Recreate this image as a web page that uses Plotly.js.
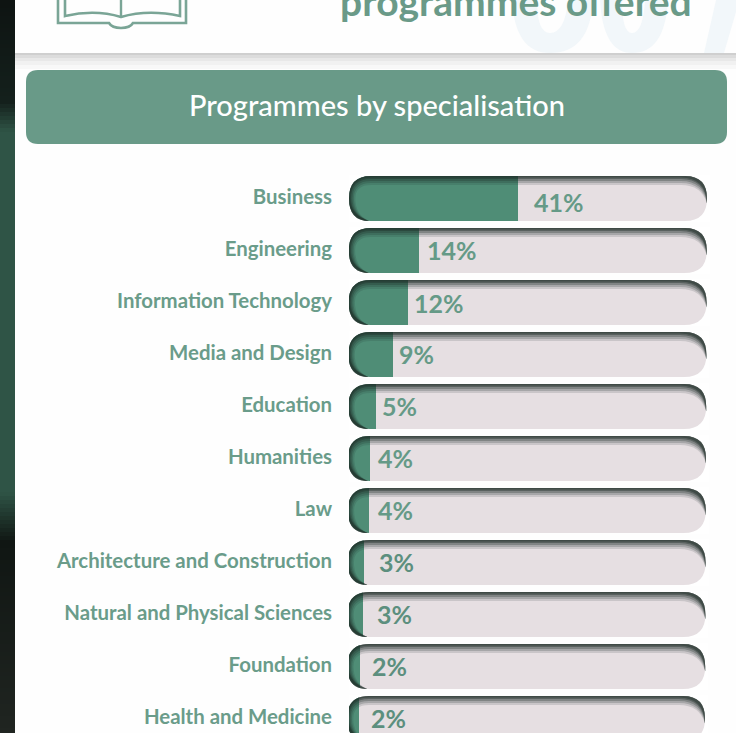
<!DOCTYPE html>
<html><head><meta charset="utf-8">
<script src="https://cdn.plot.ly/plotly-3.0.1.min.js"></script>
<style>html,body{margin:0;padding:0;background:#fff;overflow:hidden}</style>
</head><body><div id="c" style="width:736px;height:733px"></div>
<script>
const categories=["Business","Engineering","Information Technology","Media and Design","Education","Humanities","Law","Architecture and Construction","Natural and Physical Sciences","Foundation","Health and Medicine"];
const percentLabels=[41,14,12,9,5,4,4,3,3,2,2];
// drawn bar lengths (the reference is not strictly proportional to its labels)
const barLengths=[41,17,14.4,10.9,6.8,5.4,5.2,4.1,3.9,3,3];
const trackFull=87;
const labelGaps=[14,6,4,4,4,6,7,13,12,10,10];
const labelLift=[-3,1,0,1,1,1,1,1,1,1,1];
const W=736,H=733,R=22,HT=22.5,PXU=4.12;
const GREEN='#699a88',BAR='#4f8d76',TRACK='#e6dfe2',LABEL='#6a9c8a';
const px=x=>x/W,py=y=>1-y/H;
const rect=(x0,y0,x1,y1,c,layer)=>({type:'rect',xref:'paper',yref:'paper',x0:px(x0),x1:px(x1),y0:py(y0),y1:py(y1),fillcolor:c,line:{width:0},layer:layer||'below'});
const pg=(d,c,lw,lc)=>({type:'path',xref:'paper',yref:'paper',path:d.replace(/(-?[\d.]+),(-?[\d.]+)/g,(m,a,b)=>px(+a)+','+py(+b)),fillcolor:c,line:{width:lw||0,color:lc||c},layer:'below'});
const shapes=[];
// left edge strip: colour stops down the page
const stripStops=[[0,[14,20,18]],[100,[20,32,28]],[130,[47,84,70]],[490,[47,84,70]],[540,[16,22,19]],[733,[32,37,33]]];
for(let y=0;y<H;y+=4){
  let k=0;while(k<stripStops.length-2&&y>=stripStops[k+1][0])k++;
  const a=stripStops[k],b=stripStops[k+1],t=Math.min(1,(y-a[0])/(b[0]-a[0]));
  const c=a[1].map((v,j)=>Math.round(v+(b[1][j]-v)*t));
  shapes.push(rect(0,y,15,y+4,`rgb(${c})`));
}
[[53,'#cfcfcf'],[55,'#dcdcdc'],[58,'#e8e8e8'],[61,'#f1f1f1'],[65,'#f8f8f8']].forEach((a,i,l)=>shapes.push(rect(15,a[0],W,i<l.length-1?l[i+1][0]:69,a[1])));
shapes.push(pg('M512,0 Q515,53 550,53 Q590,53 593,0 L568,0 Q565,33 550,33 Q537,33 537,0 Z','#f2f7fa'));
shapes.push(pg('M600,0 Q603,53 632,53 Q665,53 668,0 L645,0 Q643,33 632,33 Q622,33 622,0 Z','#f2f7fa'));
shapes.push(pg('M704,53 L716,0 L736,0 L736,12 L724,53 Z','#f2f7fa'));
// book icon
const none='rgba(0,0,0,0)';
shapes.push(pg('M65,0 L65,16 Q95,9 121,17 Q148,9 180,16 L180,0',none,2.6,'#7aa596'));
shapes.push(pg('M58,0 L58,23 L109,23 Q112,28 121,28 Q130,28 133,23 L186,23 L186,0',none,2.6,'#7aa596'));
shapes.push(pg('M121,0 L121,17',none,2.4,'#7aa596'));
// header band
shapes.push(pg('M38,70 L715,70 Q727,70 727,82 L727,132 Q727,144 715,144 L38,144 Q26,144 26,132 L26,82 Q26,70 38,70 Z',GREEN));
const tilt=i=>-i*0.2/PXU;
// pill masks and inner shadow, anchored on each category
categories.forEach((c,i)=>{
  const base={type:'path',xref:'x',yref:'y',xsizemode:'pixel',ysizemode:'pixel',xanchor:tilt(i),yanchor:c,layer:'above',line:{width:0}};
  const w=358,r=R,h=HT;
  const m=`M-3,${h+1} L${r},${h+1} L${r},${h} Q0,${h} 0,0 Q0,${-h} ${r},${-h} L${r},${-h-1} L-3,${-h-1} Z`;
  const mr=`M${w+3},${h+1} L${w-r},${h+1} L${w-r},${h} Q${w},${h} ${w},0 Q${w},${-h} ${w-r},${-h} L${w-r},${-h-1} L${w+3},${-h-1} Z`;
  shapes.push(Object.assign({},base,{path:mr,fillcolor:'#fff'}));
  shapes.push(Object.assign({},base,{path:m,fillcolor:'#fff'}));
  [[9,.14],[7,.2],[5,.28],[3,.4],[1.5,.45]].forEach(a=>{
    const d=a[0];
    const s=`M0,0 Q0,${h} ${r},${h} L${w-r},${h} Q${w},${h} ${w},0 L${w},-5 Q${w-d*.6},${h-d} ${w-r-4},${h-d} L${r},${h-d} Q${d*.7},${h-d} ${d*.7},0 Q${d*.7},${-h+6} ${r-2},${-h} Q0,${-h} 0,0 Z`;
    shapes.push(Object.assign({},base,{path:s,fillcolor:'#1f2e29',opacity:a[1]}));
  });
});
const bases=categories.map((c,i)=>tilt(i));
const traces=[
 {type:'bar',orientation:'h',y:categories,x:categories.map(()=>trackFull),base:bases,marker:{color:TRACK},width:.865,hoverinfo:'skip',showlegend:false},
 {type:'bar',orientation:'h',y:categories,x:barLengths,base:bases,marker:{color:BAR},width:.865,showlegend:false,
  customdata:percentLabels,hovertemplate:'%{y}: %{customdata}%<extra></extra>'}
];
const annotations=categories.map((c,i)=>({xref:'x',yref:'y',x:barLengths[i]+tilt(i),y:c,text:percentLabels[i]+'%',showarrow:false,xanchor:'left',xshift:labelGaps[i],yshift:labelLift[i],
  font:{family:'Lato, sans-serif',size:25,weight:700,color:i<7?'#659a87':'#5c8f7e'}}));
annotations.push({xref:'paper',yref:'paper',x:px(377),y:py(105),xanchor:'center',yanchor:'middle',text:'Programmes by specialisation',showarrow:false,font:{family:'Lato, sans-serif',size:29,weight:500,color:'#ffffff'}});
annotations.push({xref:'paper',yref:'paper',x:px(516),y:py(1),xanchor:'center',yanchor:'middle',text:'programmes offered',showarrow:false,font:{family:'Lato, sans-serif',size:39,weight:700,color:'#6a9a88'}});
const layout={width:W,height:H,margin:{l:0,r:0,t:0,b:0},paper_bgcolor:'#fefefe',plot_bgcolor:'rgba(0,0,0,0)',barmode:'overlay',bargap:0,showlegend:false,
 xaxis:{domain:[349/W,1],range:[0,(W-349)/PXU],showgrid:false,zeroline:false,showticklabels:false,ticks:'',showline:false,fixedrange:true},
 yaxis:{domain:[0,1],type:'category',categoryorder:'array',categoryarray:categories,range:[(H-198.5)/52,-198.5/52],autorange:false,showgrid:false,zeroline:false,showline:false,ticks:'',ticklabelstandoff:16,ticklabelshift:2,
  tickfont:{family:'Lato, sans-serif',size:20.4,weight:700,color:LABEL},fixedrange:true,automargin:false},
 shapes,annotations};
Plotly.newPlot('c',traces,layout,{displayModeBar:false,staticPlot:true});
</script></body></html>
